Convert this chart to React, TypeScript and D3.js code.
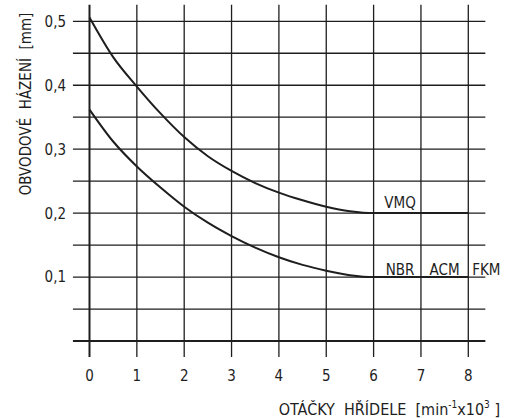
import React from "react";
import * as d3 from "d3";

const X_TICKS = [0, 1, 2, 3, 4, 5, 6, 7, 8];
const Y_TICKS = [0.1, 0.2, 0.3, 0.4, 0.5];
const Y_TICK_LABELS = ["0,1", "0,2", "0,3", "0,4", "0,5"];
const Y_GRID = [0, 0.05, 0.1, 0.15, 0.2, 0.25, 0.3, 0.35, 0.4, 0.45, 0.5];

const VMQ_X = [0, 0.5, 1, 1.5, 2, 2.5, 3, 3.5, 4, 4.5, 5, 5.5, 6, 8];
const VMQ_Y = [0.506, 0.444, 0.398, 0.356, 0.319, 0.289, 0.266, 0.247, 0.232, 0.22, 0.21, 0.203, 0.2, 0.2];
const NBR_X = [0, 0.5, 1, 1.5, 2, 2.5, 3, 3.5, 4, 4.5, 5, 5.5, 6, 8];
const NBR_Y = [0.362, 0.312, 0.273, 0.24, 0.21, 0.185, 0.164, 0.146, 0.131, 0.119, 0.11, 0.103, 0.1, 0.1];

const UPPER_LABELS = ["VMQ"];
const LOWER_LABELS = ["NBR", "ACM", "FKM"];
const LABEL_X = [6.56, 7.5, 8.38];

const FONT = "'Liberation Sans Narrow', 'DejaVu Sans Condensed', 'Liberation Sans', sans-serif";
const INK = "#1e1e1e";

export default function App() {
  const x = d3.scaleLinear().domain([0, 8]).range([89.5, 468.3]);
  const y = d3.scaleLinear().domain([0, 0.5]).range([341, 21.3]);
  const line = d3
    .line<[number, number]>()
    .x((d) => x(d[0]))
    .y((d) => y(d[1]))
    .curve(d3.curveMonotoneX);
  const vmq: [number, number][] = VMQ_X.map((v, i) => [v, VMQ_Y[i]]);
  const nbr: [number, number][] = NBR_X.map((v, i) => [v, NBR_Y[i]]);

  const gx0 = x(-0.35);
  const gx1 = x(8.36);
  const gy0 = y(-0.025);
  const gy1 = y(0.526);

  return (
    <svg
      width={507}
      height={418}
      style={{ position: "absolute", left: 0, top: 0, background: "#fff" }}
      fontFamily={FONT}
    >
      <rect width={507} height={418} fill="#fff" />
      {Y_GRID.map((v) => (
        <line
          key={"h" + v}
          x1={gx0}
          x2={gx1}
          y1={y(v)}
          y2={y(v)}
          stroke={INK}
          strokeWidth={v === 0 ? 2 : 1.3}
        />
      ))}
      {X_TICKS.map((v) => (
        <line
          key={"v" + v}
          x1={x(v)}
          x2={x(v)}
          y1={gy0}
          y2={gy1}
          stroke={INK}
          strokeWidth={v === 0 ? 2 : 1.3}
        />
      ))}
      <path d={line(vmq) || ""} fill="none" stroke={INK} strokeWidth={2} />
      <path d={line(nbr) || ""} fill="none" stroke={INK} strokeWidth={2} />

      {Y_TICKS.map((v, i) => (
        <text key={"yt" + v} x={66} y={y(v)} dy="0.36em" textAnchor="end" fontSize={15} fill={INK}>
          {Y_TICK_LABELS[i]}
        </text>
      ))}
      {X_TICKS.map((v) => (
        <text key={"xt" + v} x={x(v)} y={381} textAnchor="middle" fontSize={15} fill={INK}>
          {String(v)}
        </text>
      ))}

      {UPPER_LABELS.map((t, i) => (
        <text key={t} x={x(LABEL_X[i])} y={y(0.2) - 5} textAnchor="middle" fontSize={15} fill={INK}>
          {t}
        </text>
      ))}
      {LOWER_LABELS.map((t, i) => (
        <text key={t} x={x(LABEL_X[i])} y={y(0.1) - 2} textAnchor="middle" fontSize={15} fill={INK}>
          {t}
        </text>
      ))}

      <text x={500} y={415} textAnchor="end" fontSize={16} fill={INK} style={{ whiteSpace: "pre" }}>
        {"OTÁČKY  HŘÍDELE  [min"}
        <tspan fontSize={10} dy={-7}>{"-1"}</tspan>
        <tspan dy={7}>{"x10"}</tspan>
        <tspan fontSize={10} dy={-7}>{"3"}</tspan>
        <tspan dy={7}>{" ]"}</tspan>
      </text>
      <text
        transform={`translate(31,104) rotate(-90)`}
        textAnchor="middle"
        fontSize={15}
        fill={INK}
        style={{ whiteSpace: "pre" }}
      >
        {"OBVODOVÉ  HÁZENÍ  [mm]"}
      </text>
    </svg>
  );
}
